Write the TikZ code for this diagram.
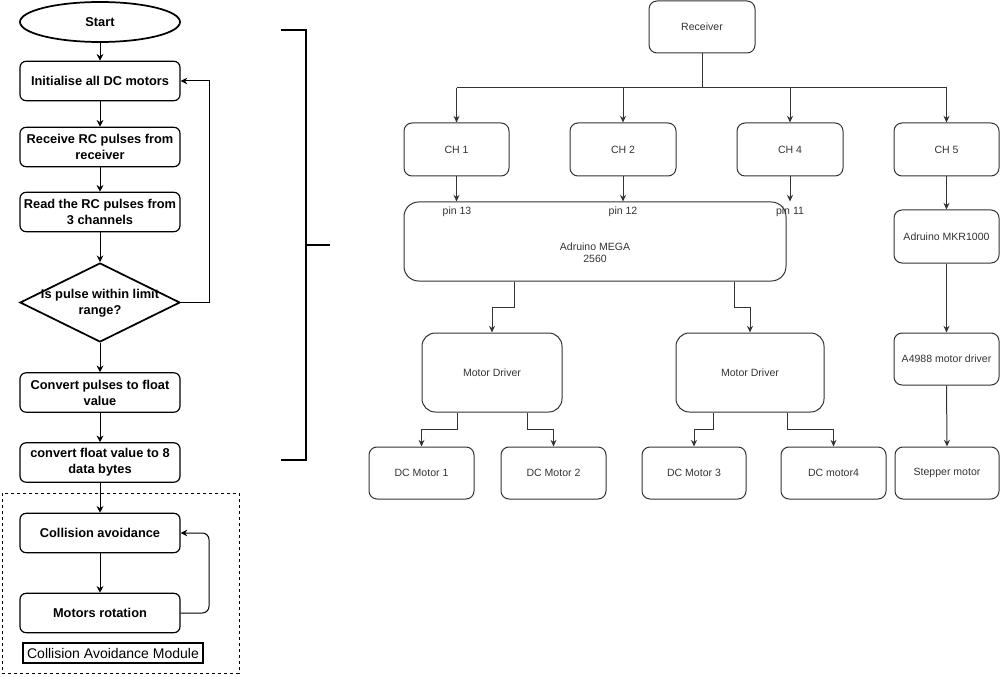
\documentclass[tikz,border=0pt]{standalone}
\usepackage{fontspec}
\setmainfont{Liberation Sans}
\usetikzlibrary{shapes.geometric,arrows.meta}
\definecolor{lc}{HTML}{333333}
\begin{document}
\begin{tikzpicture}[x=0.75pt,y=-0.75pt,
  ftext/.style={align=center,font=\bfseries\fontsize{9.6}{12}\selectfont},
  fbox/.style={ftext,draw=black,line width=0.9pt,rounded corners=4.5pt,minimum width=120pt,minimum height=29.5pt,inner sep=1pt},
  farr/.style={draw=black,line width=0.75pt,-{Stealth[length=5pt,width=5pt]}},
  rtext/.style={align=center,text=lc,font=\fontsize{7.9}{9}\selectfont,inner sep=1pt},
  rbox/.style={rtext,draw=lc,line width=0.75pt,rounded corners=6pt},
  rsz/.style 2 args={minimum width=#1*0.75pt,minimum height=#2*0.75pt},
  rarr/.style={draw=lc,line width=0.75pt,-{Stealth[length=5pt,width=4.5pt]}},
  rline/.style={draw=lc,line width=0.75pt},
  brk/.style={draw=black,line width=1.5pt},
]
\useasboundingbox (0,0) rectangle (1002,677);

% ---------------- left flowchart ----------------
\node[ellipse,draw=black,line width=1.3pt,minimum width=120pt,minimum height=30pt,inner sep=0,ftext] (start) at (100,22) {Start};
\node[fbox] (init) at (100,81) {Initialise all DC motors};
\node[fbox] (recv) at (100,147) {Receive RC pulses from\\receiver};
\node[fbox] (read) at (100,212) {Read the RC pulses from\\3 channels};
\node[diamond,draw=black,line width=1.3pt,minimum width=120pt,minimum height=59.25pt,inner sep=0] (dec) at (100,302.5) {};
\node[ftext,inner sep=0] (dect) at (100,303) {Is pulse within limit\\range?};
\node[fbox] (conv) at (100,392.5) {Convert pulses to float\\value};
\node[fbox] (convf) at (100,462.5) {convert float value to 8\\data bytes};
\node[draw=black,dashed,dash pattern=on 2.5pt off 2pt,line width=0.75pt,minimum width=177.75pt,minimum height=135pt,inner sep=0] (module) at (120.5,583) {};
\node[fbox] (coll) at (100,533) {Collision avoidance};
\node[fbox] (mot) at (100,613) {Motors rotation};
\node[draw=black,line width=0.9pt,minimum width=135pt,minimum height=15pt,inner sep=0,font=\fontsize{10.5}{12}\selectfont] (modlbl) at (113,653) {Collision Avoidance Module};

\draw[farr] (start) -- (init);
\draw[farr] (init) -- (recv);
\draw[farr] (recv) -- (read);
\draw[farr] (read) -- (dec.north);
\draw[farr] (dec.south) -- (conv);
\draw[farr] (conv) -- (convf);
\draw[farr] (convf) -- (coll);
\draw[farr] (coll) -- (mot);
\coordinate (lp1) at (209,302.5);
\draw[farr] (dec.east) -- (lp1) |- (init.east);
\coordinate (lp2) at (209,573);
\draw[farr,rounded corners=5pt] (mot.east) -| (lp2) |- (coll.east);

% ---------------- bracket ----------------
\coordinate (b1) at (281,30);
\coordinate (b2) at (306,30);
\coordinate (b3) at (306,460);
\coordinate (b4) at (281,460);
\coordinate (b5) at (306,245);
\coordinate (b6) at (330,245);
\draw[brk] (b1) -- (b2) -- (b3) -- (b4);
\draw[brk] (b5) -- (b6);

% ---------------- right block diagram ----------------
\node[rbox,rsz={106}{52}] (rx) at (702,27) {Receiver};
\node[rbox,rsz={105}{53}] (ch1) at (456.5,149.5) {CH 1};
\node[rbox,rsz={106}{53}] (ch2) at (623,149.5) {CH 2};
\node[rbox,rsz={106}{53}] (ch4) at (790,149.5) {CH 4};
\node[rbox,rsz={105}{53}] (ch5) at (946.5,149.5) {CH 5};
\node[rbox,rsz={382}{79},rounded corners=11pt] (mega) at (595,241.5) {};
\node[rtext] (megat) at (595,253) {Adruino MEGA\\2560};
\node[rtext] (p13) at (457,211.5) {pin 13};
\node[rtext] (p12) at (623,211.5) {pin 12};
\node[rtext] (p11) at (790,211.5) {pin 11};
\node[rbox,rsz={105}{53}] (mkr) at (946.5,236.5) {Adruino MKR1000};
\node[rbox,rsz={105}{52}] (a4988) at (946.5,359) {A4988 motor driver};
\node[rbox,rsz={140}{79},rounded corners=10pt] (md1) at (492,372.5) {Motor Driver};
\node[rbox,rsz={148}{79},rounded corners=10pt] (md2) at (750,372.5) {Motor Driver};
\node[rbox,rsz={105}{52}] (dc1) at (421.5,473) {DC Motor 1};
\node[rbox,rsz={105}{52}] (dc2) at (553.5,473) {DC Motor 2};
\node[rbox,rsz={104}{52}] (dc3) at (694,473) {DC Motor 3};
\node[rbox,rsz={105}{52}] (dc4) at (833.5,473) {DC motor4};
\node[rbox,rsz={104}{52}] (step) at (947,473) {Stepper motor};

\coordinate (bus) at (702,88);
\draw[rline] (rx.south) -- (bus);
\draw[rline] (bus -| ch1) -- (bus -| ch5);
\draw[rarr] (bus -| ch1) -- (ch1.north);
\draw[rarr] (bus -| ch2) -- (ch2.north);
\draw[rarr] (bus -| ch4) -- (ch4.north);
\draw[rarr] (bus -| ch5) -- (ch5.north);

\draw[rarr] (ch1.south) -- (ch1.south |- mega.north);
\draw[rarr] (ch2.south) -- (ch2.south |- mega.north);
\draw[rarr] (ch4.south) -- (ch4.south |- mega.north);

\draw[rarr] (ch5.south) -- (mkr.north);
\draw[rarr] (mkr.south) -- (a4988.north);
\draw[rarr] (a4988.south) -- (step.north);

\coordinate (m1) at (514,307);
\coordinate (m2) at (734,307);
\draw[rarr] (m1 |- mega.south) -- (m1) -| (md1.north);
\draw[rarr] (m2 |- mega.south) -- (m2) -| (md2.north);

\coordinate (d1) at (457,429);
\coordinate (d2) at (527,429);
\coordinate (d3) at (713,429);
\coordinate (d4) at (787,429);
\draw[rarr] (d1 |- md1.south) -- (d1) -| (dc1.north);
\draw[rarr] (d2 |- md1.south) -- (d2) -| (dc2.north);
\draw[rarr] (d3 |- md2.south) -- (d3) -| (dc3.north);
\draw[rarr] (d4 |- md2.south) -- (d4) -| (dc4.north);
\end{tikzpicture}
\end{document}
